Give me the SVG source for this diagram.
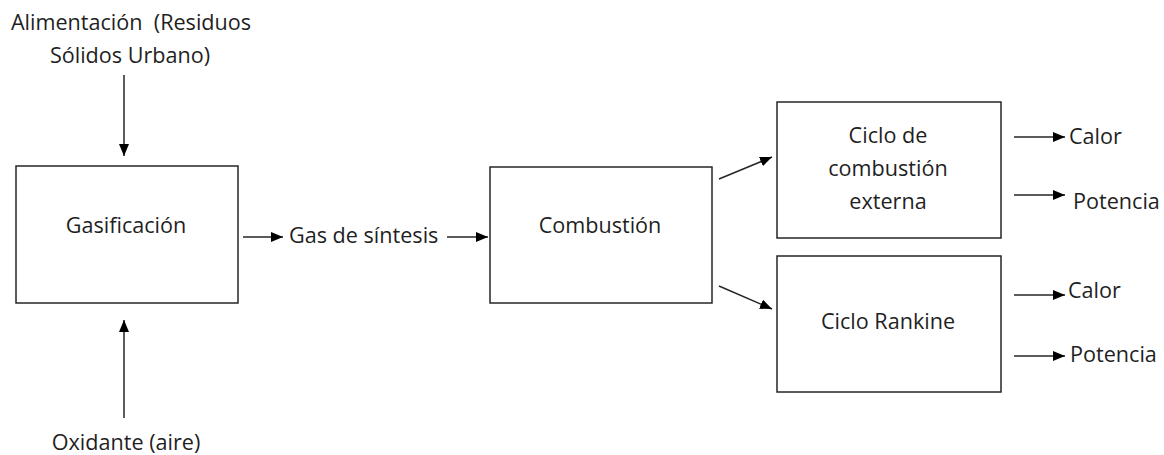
<svg xmlns="http://www.w3.org/2000/svg" width="1164" height="455" viewBox="0 0 1164 455">
<style>
text{font-family:"Open Sans","Liberation Sans",sans-serif;font-size:21.6px;fill:#1f1f1f}
.box{fill:#fff;stroke:#262626;stroke-width:1.5}
.c{stroke:#262626;stroke-width:1.5;fill:none;marker-end:url(#ah)}
</style>
<defs>
<marker id="ah" viewBox="0 0 12 10" refX="12" refY="5" markerWidth="12" markerHeight="10" markerUnits="userSpaceOnUse" orient="auto">
<path d="M0,0L12,5L0,10Z" fill="#000"/>
</marker>
</defs>
<rect width="1164" height="455" fill="#fff"/>
<g id="feed"><text x="131" y="30" text-anchor="middle" xml:space="preserve">Alimentación  (Residuos</text><text x="130" y="63" text-anchor="middle">Sólidos Urbano)</text></g>
<g id="oxid"><text x="126" y="450" text-anchor="middle">Oxidante (aire)</text></g>
<g id="gasif"><rect class="box" x="16" y="166" width="222" height="137"/><text x="126" y="233" text-anchor="middle">Gasificación</text></g>
<g id="syngas"><text x="289" y="243">Gas de síntesis</text></g>
<g id="comb"><rect class="box" x="490" y="167" width="222" height="136"/><text x="600" y="233" text-anchor="middle">Combustión</text></g>
<g id="ext"><rect class="box" x="777" y="102" width="224" height="136"/><text x="888" y="143" text-anchor="middle">Ciclo de</text><text x="888" y="176" text-anchor="middle">combustión</text><text x="888" y="209" text-anchor="middle">externa</text></g>
<g id="rank"><rect class="box" x="777" y="256" width="224" height="136"/><text x="888" y="329" text-anchor="middle">Ciclo Rankine</text></g>
<g id="outs"><text x="1069" y="144">Calor</text><text x="1073" y="209">Potencia</text><text x="1068" y="298">Calor</text><text x="1070" y="362">Potencia</text></g>
<g id="connectors">
<line class="c" x1="124" y1="75" x2="124" y2="156"/>
<line class="c" x1="124" y1="418" x2="124" y2="320"/>
<line class="c" x1="243" y1="237" x2="283" y2="237"/>
<line class="c" x1="447" y1="237" x2="488" y2="237"/>
<line class="c" x1="719" y1="179" x2="772" y2="157"/>
<line class="c" x1="719" y1="286" x2="772" y2="309"/>
<line class="c" x1="1014" y1="137" x2="1065" y2="137"/>
<line class="c" x1="1014" y1="195" x2="1065" y2="195"/>
<line class="c" x1="1014" y1="295" x2="1065" y2="295"/>
<line class="c" x1="1014" y1="356" x2="1065" y2="356"/>
</g>
</svg>
